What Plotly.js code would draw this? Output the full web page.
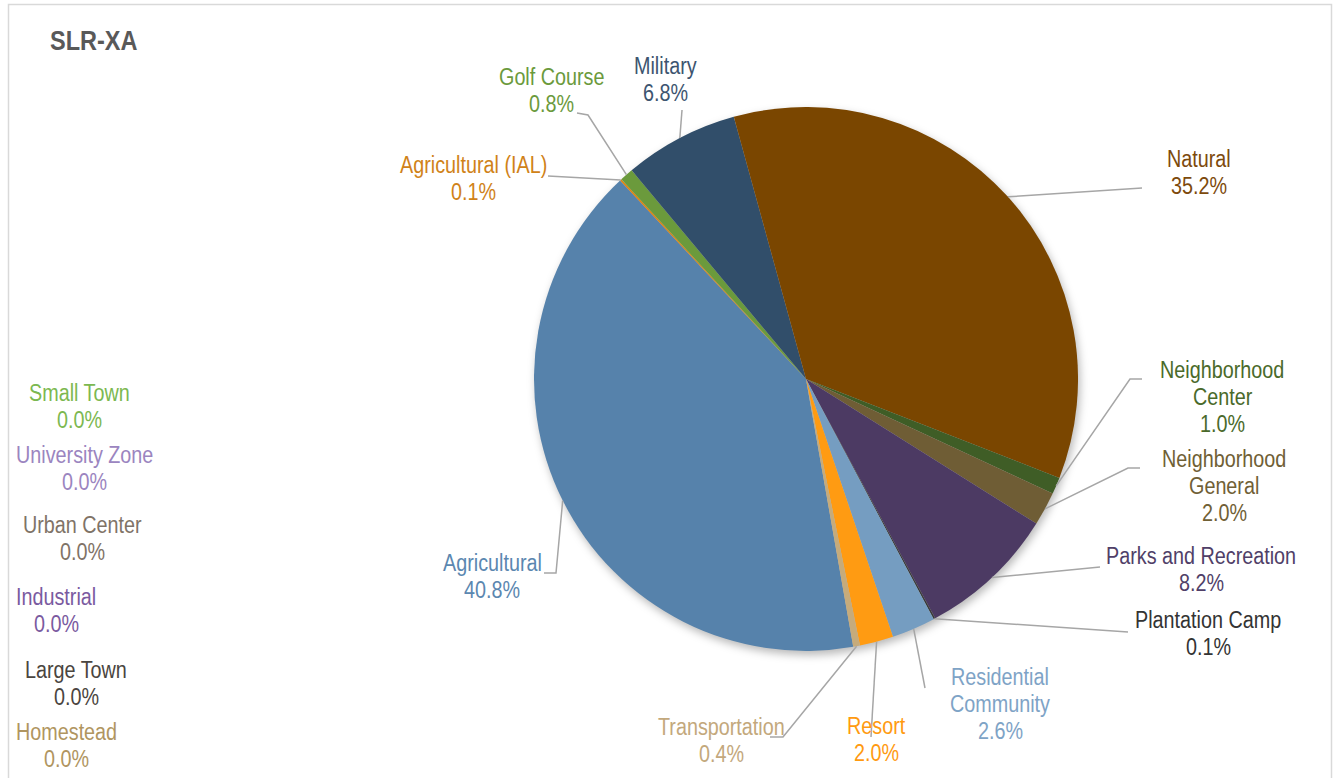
<!DOCTYPE html>
<html>
<head>
<meta charset="utf-8">
<script src="https://cdn.plot.ly/plotly-3.0.1.min.js"></script>
<style>
  html, body { margin: 0; padding: 0; background: #fff; }
  #chart { width: 1333px; height: 778px; }
  .pielayer .trace { filter: drop-shadow(2px 4px 4px rgba(0,0,0,0.28)); }
  .annotation-text { transform-box: fill-box; transform-origin: center; transform: scaleX(0.86); }
  .gtitle { transform-box: fill-box; transform-origin: left center; transform: scaleX(0.84); }
</style>
</head>
<body>
<div id="chart"></div>
<script>
// ---- data ----
const categories = ["Agricultural", "Agricultural (IAL)", "Golf Course", "Homestead", "Industrial",
  "Large Town", "Military", "Natural", "Neighborhood Center", "Neighborhood General",
  "Parks and Recreation", "Plantation Camp", "Residential Community", "Resort", "Small Town",
  "Transportation", "University Zone", "Urban Center"];
const sharePct = [40.8, 0.1, 0.8, 0.0, 0.0, 0.0, 6.8, 35.2, 1.0, 2.0, 8.2, 0.1, 2.6, 2.0, 0.0, 0.4, 0.0, 0.0];
const sliceColors = ["#5682ab", "#e0850f", "#6b9a3c", "#b59a63", "#7d5ea6", "#4f4740", "#314e6a", "#7a4600",
  "#3f5d26", "#6f5d35", "#4c3a63", "#3b3b3b", "#759dc1", "#ff9b12", "#7fbb52", "#c6ab7b", "#9c88c4", "#7e7266"];
const labelColors = ["#5b87b0", "#d08218", "#6b9a3c", "#b09560", "#7a5aa0", "#4a4540", "#3d5570", "#7d4a0c",
  "#4a6a2a", "#706035", "#503f68", "#333333", "#7ea3c6", "#ff9a10", "#7cb850", "#c3a87c", "#9b85c0", "#7f7367"];
const chartTitle = "SLR-XA";

// ---- layout constants (pixels) ----
const W = 1333, H = 778;
const CX = 806, CY = 379, R = 272;
const ROT = 170;
const FONT = '"Liberation Sans", Arial, sans-serif';
const FS = 23, LINE = 27;
const wrapped = { "Neighborhood Center": ["Neighborhood", "Center"],
                  "Neighborhood General": ["Neighborhood", "General"],
                  "Residential Community": ["Residential", "Community"] };
// label block centre and leader-line start points
const labelPos = {
  "Agricultural": { c: [492, 577.5], pts: [[544, 573], [556, 573]] },
  "Agricultural (IAL)": { c: [473, 179.5], pts: [[548, 176]] },
  "Golf Course": { c: [551, 91.5], pts: [[577, 113], [588, 115]] },
  "Military": { c: [665, 80.5], pts: [[682, 110]] },
  "Natural": { c: [1199, 173.5], pts: [[1142, 188]] },
  "Neighborhood Center": { c: [1222, 397.5], pts: [[1142, 379], [1130, 379]] },
  "Neighborhood General": { c: [1224, 487], pts: [[1140, 468], [1128, 468]] },
  "Parks and Recreation": { c: [1201, 570.5], pts: [[1100, 567]] },
  "Plantation Camp": { c: [1208, 634.5], pts: [[1128, 632]] },
  "Residential Community": { c: [1000, 704.5], pts: [[925, 688]] },
  "Resort": { c: [876, 740.5], pts: [[871, 737]] },
  "Transportation": { c: [721, 741.5], pts: [[770, 737], [783, 737]] },
  "Small Town": { c: [79, 407.5] },
  "University Zone": { c: [84, 469.5] },
  "Urban Center": { c: [82, 539.5] },
  "Industrial": { c: [56, 611] },
  "Large Town": { c: [76, 684.5] },
  "Homestead": { c: [66, 746.5] }
};

const px = x => x / W;
const py = y => 1 - y / H;

const total = sharePct.reduce((a, b) => a + b, 0);
const pieIdx = categories.map((c, i) => i).filter(i => sharePct[i] > 0);

const annotations = [];
const shapes = [];

// mid angles of slices (clockwise from 12 o'clock, as Plotly draws)
let acc = 0;
const midAngle = {};
pieIdx.forEach(i => {
  const v = sharePct[i];
  midAngle[categories[i]] = ROT + (acc + v / 2) / total * 360;
  acc += v;
});

categories.forEach((cat, i) => {
  const pos = labelPos[cat];
  if (!pos) return;
  const pct = (sharePct[i] / total * 100).toFixed(1) + "%";
  const lines = (wrapped[cat] || [cat]).concat([pct]);
  const y0 = pos.c[1] - (lines.length - 1) * LINE / 2;
  lines.forEach((t, k) => {
    annotations.push({
      xref: "paper", yref: "paper", x: px(pos.c[0]), y: py(y0 + k * LINE),
      xanchor: "center", yanchor: "middle", showarrow: false, text: t,
      font: { family: FONT, size: FS, color: labelColors[i] }
    });
  });
  if (pos.pts && midAngle[cat] !== undefined) {
    const a = midAngle[cat] * Math.PI / 180;
    const ex = CX + R * Math.sin(a), ey = CY - R * Math.cos(a);
    const all = pos.pts.concat([[ex, ey]]);
    const d = all.map((p, k) => (k ? "L" : "M") + px(p[0]).toFixed(5) + "," + py(p[1]).toFixed(5)).join(" ");
    shapes.push({ type: "path", xref: "paper", yref: "paper", path: d,
      line: { color: "#a6a6a6", width: 1.5 } });
  }
});

// outer frame
shapes.push({ type: "rect", xref: "paper", yref: "paper",
  x0: px(8.5), x1: px(1331.5), y0: py(790), y1: py(4.5),
  line: { color: "#d9d9d9", width: 1.5 }, fillcolor: "rgba(0,0,0,0)" });

const trace = {
  type: "pie",
  labels: pieIdx.map(i => categories[i]),
  values: pieIdx.map(i => sharePct[i]),
  marker: { colors: pieIdx.map(i => sliceColors[i]), line: { width: 0 } },
  sort: false,
  direction: "clockwise",
  rotation: ROT,
  textinfo: "none",
  hoverinfo: "none",
  showlegend: false,
  domain: { x: [px(CX - R), px(CX + R)], y: [py(CY + R), py(CY - R)] }
};

const layout = {
  width: W, height: H,
  margin: { l: 0, r: 0, t: 0, b: 0 },
  paper_bgcolor: "#ffffff",
  showlegend: false,
  title: {
    text: "<b>" + chartTitle + "</b>",
    xref: "container", yref: "container",
    x: 50 / W, xanchor: "left", y: 1 - 40 / H, yanchor: "middle",
    font: { family: FONT, size: 28, color: "#595959" }
  },
  annotations: annotations,
  shapes: shapes
};

Plotly.newPlot("chart", [trace], layout, { displayModeBar: false, staticPlot: true });
</script>
</body>
</html>
